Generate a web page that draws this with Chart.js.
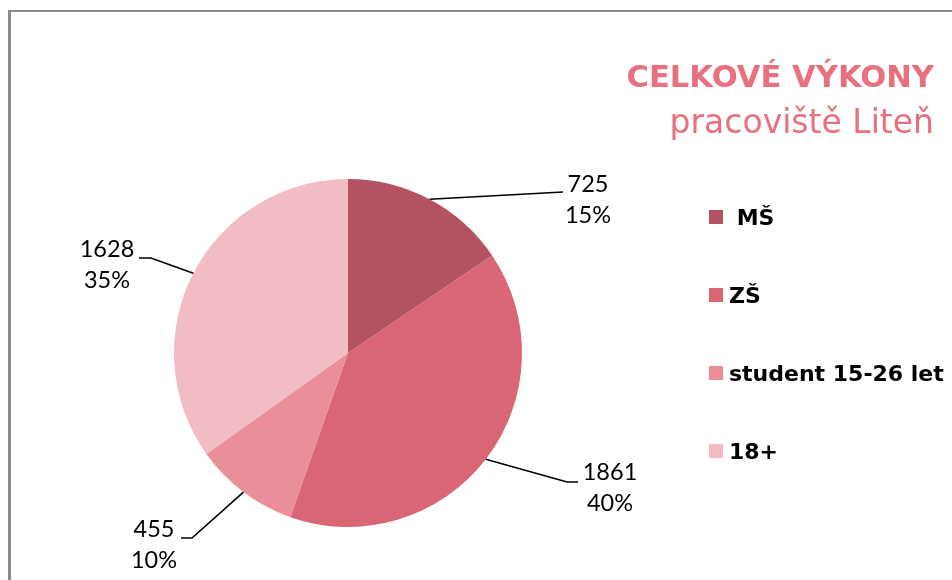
<!DOCTYPE html>
<html>
<head>
<meta charset="utf-8">
<script src="https://cdn.jsdelivr.net/npm/chart.js@4"></script>
<style>
  html, body { margin: 0; padding: 0; background: #fff; }
  #wrap { position: relative; width: 952px; height: 580px; overflow: hidden; }
</style>
</head>
<body>
<div id="wrap"><canvas id="pie" width="952" height="580"></canvas></div>
<script>
// chart data
const categories = ['MŠ', 'ZŠ', 'student 15-26 let', '18+'];
const legendText = [' MŠ', 'ZŠ', 'student 15-26 let', '18+'];
const values = [725, 1861, 455, 1628];
const percents = [15, 40, 10, 35];
const colors = ['#B35361', '#D96575', '#EA8F9A', '#F1BCC3'];

// where each data label sits (elbow of leader line, tail end, text centre / first baseline)
const labelLayout = [
    { ex: 563, ey: 192, tx: 563, cx: 588, by: 192 },
    { ex: 567, ey: 482, tx: 578, cx: 610, by: 480 },
    { ex: 192, ey: 538, tx: 181, cx: 154, by: 537 },
    { ex: 151, ey: 258, tx: 139, cx: 107, by: 257 }
];

const pink = '#E8707F';

/**
 * Draws frame, title, legend and leader-line labels
 */
const decorPlugin = {
    id: 'decor',
    beforeDraw: function(chart) {
        const ctx = chart.ctx;
        ctx.save();
        ctx.fillStyle = '#fff';
        ctx.fillRect(0, 0, chart.width, chart.height);
        // grey frame (only top/left visible)
        ctx.fillStyle = '#8a8a8a';
        ctx.fillRect(8, 10, chart.width, 2);
        ctx.fillRect(8, 10, 3, chart.height);
        ctx.restore();
    },
    afterDraw: function(chart) {
        const ctx = chart.ctx;
        const meta = chart.getDatasetMeta(0);
        ctx.save();

        // title
        ctx.fillStyle = pink;
        ctx.textAlign = 'right';
        ctx.textBaseline = 'alphabetic';
        ctx.font = 'bold 30.6px "DejaVu Sans"';
        ctx.fillText('CELKOVÉ VÝKONY', 934, 87);
        ctx.font = '33px "DejaVu Sans"';
        ctx.fillText('pracoviště Liteň', 934, 133);

        // legend
        ctx.textAlign = 'left';
        ctx.font = 'bold 22px "DejaVu Sans"';
        categories.forEach(function(cat, i) {
            const top = 210 + i * 78;
            ctx.fillStyle = colors[i];
            ctx.fillRect(709, top, 14, 14);
            ctx.fillStyle = '#000';
            ctx.fillText(legendText[i], 729, top + 15);
        });

        // data labels with leader lines
        ctx.strokeStyle = '#000';
        ctx.lineWidth = 1.6;
        ctx.font = '23.5px Lato';
        ctx.textAlign = 'center';
        meta.data.forEach(function(arc, i) {
            const p = arc.getProps(['x', 'y', 'startAngle', 'endAngle', 'outerRadius'], true);
            const mid = (p.startAngle + p.endAngle) / 2;
            const sx = p.x + Math.cos(mid) * p.outerRadius;
            const sy = p.y + Math.sin(mid) * p.outerRadius;
            const l = labelLayout[i];
            ctx.beginPath();
            ctx.moveTo(sx, sy);
            ctx.lineTo(l.ex, l.ey);
            ctx.lineTo(l.tx, l.ey);
            ctx.stroke();
            ctx.fillStyle = '#000';
            ctx.fillText(String(values[i]), l.cx, l.by);
            ctx.fillText(percents[i] + '%', l.cx, l.by + 31);
        });

        ctx.restore();
    }
};

new Chart(document.getElementById('pie'), {
    type: 'pie',
    data: {
        labels: categories,
        datasets: [{
            data: values,
            backgroundColor: colors,
            borderWidth: 0
        }]
    },
    options: {
        responsive: false,
        animation: false,
        layout: {
            padding: { left: 174, top: 179, right: 430, bottom: 53 }
        },
        plugins: {
            legend: { display: false },
            tooltip: { enabled: false },
            title: { display: false }
        }
    },
    plugins: [decorPlugin]
});
</script>
</body>
</html>
